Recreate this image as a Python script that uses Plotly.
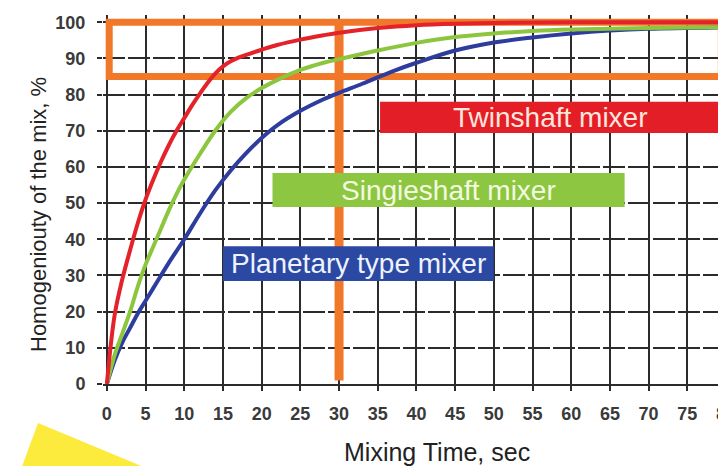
import plotly.graph_objects as go

# ---- data ----
red_x = [0, 1, 2, 3, 4, 5, 6, 7, 8, 9, 10, 11, 12, 13, 14, 15, 16, 17, 18, 20, 22, 25, 28, 30, 35, 40, 45, 50, 60, 70, 80]
red_y = [0, 19, 29, 37, 44.5, 51, 56.5, 61.5, 66, 70, 73.5, 77, 80.2, 83.2, 85.8, 87.8, 89.2, 90.2, 91, 92.4, 93.7, 95.2, 96.4, 97.1, 98.4, 99.2, 99.6, 99.8, 100, 100, 100]

green_x = [0, 1, 2, 3, 4, 5, 6, 7, 8, 9, 10, 12, 14, 16, 18, 20, 22, 25, 28, 30, 35, 40, 45, 50, 55, 60, 70, 80]
green_y = [0, 8, 14, 20, 27, 33, 38, 43, 48, 52.5, 56.5, 63.5, 70, 75.2, 79, 81.8, 84, 86.8, 88.8, 89.8, 92.2, 94.3, 95.9, 96.9, 97.6, 98, 98.4, 98.6]

blue_x = [0, 1, 2, 3, 4, 5, 6, 7, 8, 10, 12, 14, 16, 18, 20, 22, 25, 28, 30, 33, 37, 40, 45, 50, 55, 60, 65, 70, 80]
blue_y = [0, 6.5, 11.5, 15.5, 19.5, 23, 26.5, 30, 33.5, 40, 47, 53.5, 59, 63.8, 68, 71.5, 75.5, 78.7, 80.5, 83, 86.5, 88.8, 92.2, 94.4, 95.8, 96.9, 97.7, 98.2, 98.6]

series_names = ["Twinshaft mixer", "Singieshaft mixer", "Planetary type mixer"]
x_ticks = list(range(0, 85, 5))
y_ticks = list(range(0, 110, 10))

# ---- styling ----
W, H = 726, 466
OFF = 8  # page body margin offset (screen px = figure px + OFF)
# plot area in screen pixels: left 103, right 726, top 15, bottom 384
L, R, T, B = 103 - OFF, OFF, 15 - OFF, H - (384 - OFF)
FONT = "Liberation Sans, Arial, sans-serif"
RED, GREEN, BLUE, ORANGE = "#E4222A", "#8CC63F", "#2E3C9E", "#F07828"
GRID = "#2b2b2b"

fig = go.Figure()
for xs, ys, col, nm in [(blue_x, blue_y, BLUE, series_names[2]),
                        (green_x, green_y, GREEN, series_names[1]),
                        (red_x, red_y, RED, series_names[0])]:
    fig.add_trace(go.Scatter(x=xs, y=ys, mode="lines", name=nm,
                             line=dict(color=col, width=4, shape="spline", smoothing=1.0),
                             showlegend=False, hoverinfo="skip"))

shapes = []
# orange highlight rectangle and 30 s line
shapes.append(dict(type="rect", xref="x", yref="y", x0=0.3, x1=79.4, y0=85, y1=100,
                   line=dict(color=ORANGE, width=7), layer="between"))
shapes.append(dict(type="line", xref="x", yref="y", x0=30, x1=30, y0=1, y1=100,
                   line=dict(color=ORANGE, width=9), layer="between"))

# label boxes
boxes = [
    (series_names[0], 35.3, 79.4, 69.4, 78.0, "#E41E26", "#FFE6DE"),
    (series_names[1], 21.4, 66.9, 48.9, 58.3, "#8DC641", "#F3FAE0"),
    (series_names[2], 15.0, 50.0, 28.5, 38.1, "#2B48A2", "#EEF2FF"),
]
annotations = []
for name, x0, x1, y0, y1, fill, tcol in boxes:
    shapes.append(dict(type="rect", xref="x", yref="y", x0=x0, x1=x1, y0=y0, y1=y1,
                       fillcolor=fill, line=dict(width=0), layer="above"))
    annotations.append(dict(x=(x0 + x1) / 2, y=(y0 + y1) / 2, xref="x", yref="y",
                            xanchor="center", yanchor="middle",
                            text=name, showarrow=False,
                            font=dict(family=FONT, size=28, color=tcol)))

# decorative yellow wedge at the bottom-left (screen pixel -> paper)
pw, ph = W - L - R, H - T - B
def px(x):
    return (x - OFF - L) / pw
def py(y):
    return (H - B - (y - OFF)) / ph
wedge = [(17, 480), (38, 423), (175, 480)]
path = "M " + " L ".join(f"{px(a):.4f},{py(b):.4f}" for a, b in wedge) + " Z"
shapes.append(dict(type="path", xref="paper", yref="paper", path=path,
                   fillcolor="#FCEB3C", line=dict(width=0), layer="above"))

# axis titles
annotations.append(dict(x=px(38), y=py(215), xref="paper", yref="paper",
                        xanchor="center", yanchor="middle",
                        text="Homogeniouty of the mix, %", textangle=-90, showarrow=False,
                        font=dict(family=FONT, size=22, color="#222")))
annotations.append(dict(x=px(437), y=py(452), xref="paper", yref="paper",
                        xanchor="center", yanchor="middle",
                        text="Mixing Time, sec", showarrow=False,
                        font=dict(family=FONT, size=25, color="#222")))

fig.update_layout(
    width=W, height=H,
    margin=dict(l=L, r=R, t=T, b=B, autoexpand=False),
    paper_bgcolor="white", plot_bgcolor="white",
    shapes=shapes, annotations=annotations,
    xaxis=dict(range=[-0.5, 80], tickvals=x_ticks, showgrid=True, automargin=False,
               gridcolor=GRID, gridwidth=1.6,
               zeroline=True, zerolinecolor=GRID, zerolinewidth=2,
               showline=True, linecolor=GRID, linewidth=2,
               ticks="outside", ticklen=5, tickcolor=GRID, tickwidth=2,
               ticklabelstandoff=7, ticklabeloverflow="allow",
               tickfont=dict(family=FONT, size=18, color="#3a3a3a", weight="bold"),
               fixedrange=True),
    yaxis=dict(range=[0, 102], tickvals=y_ticks, showgrid=True, automargin=False,
               gridcolor=GRID, gridwidth=1.6, griddash="22px,3px",
               zeroline=False, showline=False,
               ticks="outside", ticklen=5, tickcolor=GRID, tickwidth=2,
               ticklabelstandoff=8,
               tickfont=dict(family=FONT, size=18, color="#3a3a3a", weight="bold"),
               fixedrange=True),
)

fig.write_html("out.html")
